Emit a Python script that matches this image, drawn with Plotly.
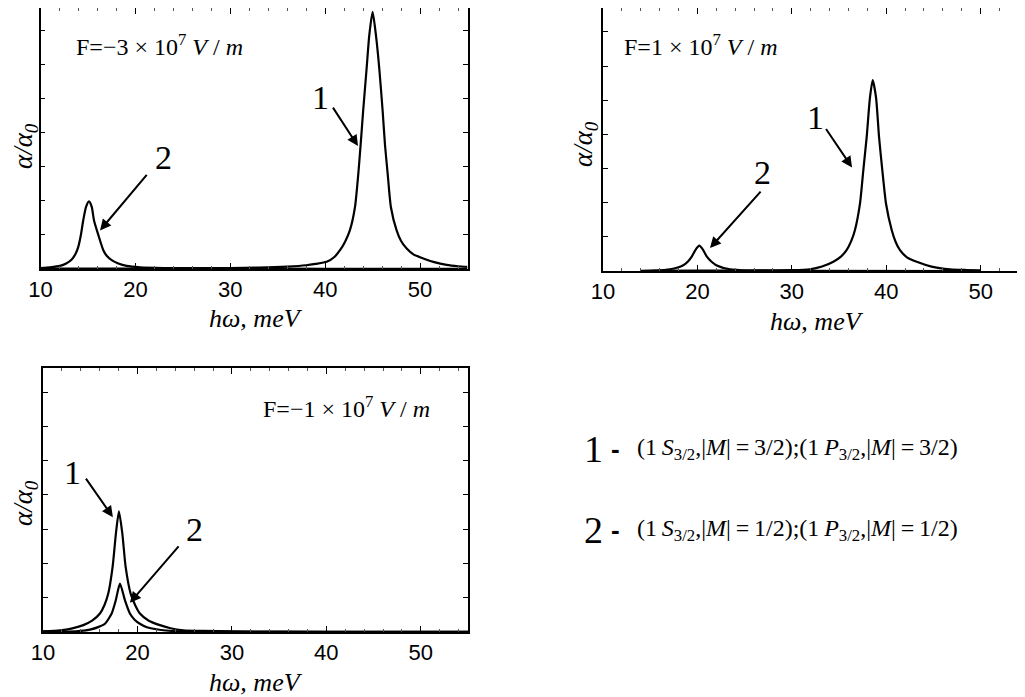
import plotly.graph_objects as go

# the page body adds an 8 px margin, so the figure is made 8 px smaller and all
# reference pixel positions are shifted by that offset
OFF = 8
W, H = 1025 - OFF, 697 - OFF

# ---------------- data ----------------
# Top-left panel, F = -3e7 V/m
tl1_x = [10, 20, 25, 30, 33, 36, 38, 39, 40.16, 41.0, 41.56, 42.1, 42.6, 43.14, 43.49, 43.74, 44.0, 44.37, 44.65,
         45.0, 45.35, 45.7, 46.06, 46.3, 46.59, 46.93, 47.53, 48.0, 48.59, 49.3, 50.34, 51.5, 52.8, 54.0, 55]
tl1_y = [0.01, 0.015, 0.02, 0.03, 0.04, 0.07, 0.11, 0.15, 0.21, 0.36, 0.55, 0.8, 1.13, 1.81, 2.78, 3.65, 4.62, 5.88, 6.85,
         7.53, 6.85, 5.88, 4.62, 3.65, 2.78, 1.81, 1.13, 0.82, 0.6, 0.43, 0.31, 0.2, 0.12, 0.08, 0.06]
tl2_x = [10, 11, 12.05, 12.7, 13.29, 13.7, 13.98, 14.25, 14.5, 14.8, 15.11, 15.4, 15.64, 16.1, 16.62, 17.0, 17.5,
         18.2, 19.08, 20.5, 23, 27, 35, 45, 55]
tl2_y = [0.03, 0.05, 0.09, 0.16, 0.28, 0.45, 0.65, 0.99, 1.42, 1.82, 1.98, 1.82, 1.42, 0.99, 0.55, 0.38, 0.26,
         0.16, 0.09, 0.05, 0.03, 0.02, 0.01, 0.005, 0.004]

# Top-right panel, F = 1e7 V/m
tr1_x = [14, 20, 25, 28, 30, 31.9, 33.2, 34.4, 35.2, 35.8, 36.3, 36.69, 37.22, 37.57, 37.93, 38.28, 38.57,
         38.92, 39.24, 39.59, 39.98, 40.58, 41.0, 41.46, 42.2, 43.23, 44.8, 46.76, 48.5, 50]
tr1_y = [0.005, 0.01, 0.015, 0.02, 0.025, 0.05, 0.13, 0.27, 0.42, 0.61, 0.88, 1.2, 1.97, 2.94, 3.92, 5.08, 5.59,
         5.08, 3.92, 2.94, 1.97, 1.2, 0.85, 0.61, 0.4, 0.27, 0.13, 0.05, 0.03, 0.02]
tr2_x = [14, 15.3, 17.1, 18.5, 19.0, 19.4, 19.8, 20.2, 20.6, 21.0, 21.5, 22.0, 23.45, 25.5, 30, 50]
tr2_y = [0.0, 0.01, 0.05, 0.17, 0.28, 0.42, 0.62, 0.74, 0.62, 0.42, 0.27, 0.17, 0.05, 0.015, 0.005, 0.0]

# Bottom-left panel, F = -1e7 V/m
bl1_x = [10, 11.8, 13.0, 14.27, 15.2, 16.03, 16.5, 16.91, 17.37, 17.72, 18.04, 18.4, 18.75, 19.28, 19.8, 20.26,
         21.2, 22.38, 23.5, 24.85, 27, 30, 35, 45, 55]
bl1_y = [0.02, 0.05, 0.1, 0.2, 0.33, 0.54, 0.78, 1.12, 1.9, 2.87, 3.52, 2.87, 1.9, 1.12, 0.76, 0.54,
         0.33, 0.2, 0.11, 0.05, 0.03, 0.02, 0.01, 0.005, 0.003]
bl2_x = [10, 12, 13.5, 14.97, 15.9, 16.56, 17.27, 17.7, 18.15, 18.68, 19.2, 19.7, 20.26, 21.0, 22.0, 24.3, 27, 35, 55]
bl2_y = [0.01, 0.015, 0.02, 0.07, 0.15, 0.24, 0.54, 0.92, 1.41, 0.92, 0.54, 0.36, 0.24, 0.14, 0.08, 0.02, 0.01,
         0.005, 0.003]

x_ticks = [10, 20, 30, 40, 50]
field_labels = ["F=\u22123 \u00d7 10<sup>7</sup> <i>V</i> / <i>m</i>",
                "F=1 \u00d7 10<sup>7</sup> <i>V</i> / <i>m</i>",
                "F=\u22121 \u00d7 10<sup>7</sup> <i>V</i> / <i>m</i>"]
T = "\u2009"
legend_lines = [
    f"(1{T}<i>S</i><sub>3/2</sub>,|<i>M</i>|{T}={T}3/2);(1{T}<i>P</i><sub>3/2</sub>,|<i>M</i>|{T}={T}3/2)",
    f"(1{T}<i>S</i><sub>3/2</sub>,|<i>M</i>|{T}={T}1/2);(1{T}<i>P</i><sub>3/2</sub>,|<i>M</i>|{T}={T}1/2)",
]

# ---------------- figure ----------------
fig = go.Figure()
LINE = dict(color="black", width=2.2, shape="spline", smoothing=0.6)


def add(x, y, xa, ya):
    fig.add_trace(go.Scatter(x=x, y=y, mode="lines", line=LINE, xaxis=xa, yaxis=ya,
                             showlegend=False, hoverinfo="skip"))


add(tl1_x, tl1_y, "x", "y")
add(tl2_x, tl2_y, "x", "y")
add(tr1_x, tr1_y, "x2", "y2")
add(tr2_x, tr2_y, "x2", "y2")
add(bl1_x, bl1_y, "x3", "y3")
add(bl2_x, bl2_y, "x3", "y3")


def px(p):
    return min(1.0, max(0.0, (p - OFF) / W))


def py(p):
    return min(1.0, max(0.0, 1 - (p - OFF) / H))


SANS = "Liberation Sans, Arial, sans-serif"
SERIF = "Liberation Serif, Times New Roman, serif"


def xaxis(dom, rng, anchor):
    return dict(domain=dom, range=rng, anchor=anchor, tickvals=x_ticks, ticks="inside", ticklen=6,
                tickwidth=1.2, tickcolor="black", showline=True, linecolor="black", linewidth=1.8,
                mirror="allticks", showgrid=False, zeroline=False, ticklabelstandoff=0, automargin=False,
                tickfont=dict(family=SANS, size=22, color="black"),
                minor=dict(dtick=2, tick0=10, ticks="inside", ticklen=3, tickcolor="#555", tickwidth=1,
                           showgrid=False))


def yaxis(dom, rng, anchor):
    return dict(domain=dom, range=rng, anchor=anchor, dtick=1, tick0=0, ticks="inside", ticklen=5,
                tickwidth=1.2, tickcolor="black", showticklabels=False, showline=True, linecolor="black",
                linewidth=1.8, mirror="allticks", showgrid=False, zeroline=False, automargin=False)


fig.update_layout(
    width=W, height=H, autosize=False,
    margin=dict(l=0, r=0, t=0, b=0, autoexpand=False),
    paper_bgcolor="white", plot_bgcolor="white",
    xaxis=xaxis([px(40.5), px(467.5)], [10, 55], "y"),
    yaxis=yaxis([py(269), py(6)], [0, 7.645], "x"),
    xaxis2=xaxis([px(603), 1.0], [10, 54.7], "y2"),
    yaxis2=yaxis([py(271), py(7)], [0, 7.70], "x2"),
    xaxis3=xaxis([px(43), px(468)], [10, 55], "y3"),
    yaxis3=yaxis([py(632), py(368)], [0, 7.70], "x3"),
)

ann = []


def text(x, y, t, size, family=SERIF, xanchor="center", angle=0):
    ann.append(dict(x=px(x), y=py(y), xref="paper", yref="paper", text=t, showarrow=False,
                    xanchor=xanchor, yanchor="middle", textangle=angle,
                    font=dict(family=family, size=size, color="black")))


def arrow(xr, yr, hx, hy, ax, ay):
    ann.append(dict(x=hx, y=hy, xref=xr, yref=yr, text="", showarrow=True, ax=ax, ay=ay,
                    arrowhead=2, arrowsize=1.1, arrowwidth=2, arrowcolor="black"))


# field annotations
text(159, 45, field_labels[0], 24)
text(701, 45, field_labels[1], 24)
text(346, 407, field_labels[2], 24)

# axis titles
for (cx, cy) in [(256, 318), (817, 321), (256, 682)]:
    text(cx, cy, "<i>h\u03c9, meV</i>", 26)
for (cx, cy) in [(25, 146), (585, 144), (25, 503)]:
    text(cx, cy, "<i>\u03b1/\u03b1<sub>0</sub></i>", 27, angle=-90)

# peak labels
text(320, 97, "1", 34)
text(163, 158, "2", 34)
text(815, 118, "1", 34)
text(762, 172, "2", 34)
text(72, 472, "1", 34)
text(194, 529, "2", 34)

# arrows (head in data coordinates, tail as pixel offset)
arrow("x", "y", 43.46, 3.6, -26, -40)
arrow("x", "y", 16.27, 1.13, 48, -57)
arrow("x2", "y2", 36.38, 3.03, -27, -40)
arrow("x2", "y2", 21.33, 0.67, 52, -58)
arrow("x3", "y3", 17.4, 3.35, -28, -40)
arrow("x3", "y3", 19.2, 0.85, 50, -58)

# legend of transitions
for i, (ly, lab) in enumerate([(449, "1"), (530, "2")]):
    text(593, ly, lab, 38)
    text(615, ly, "<b>-</b>", 26, family=SANS)
    text(635, ly, legend_lines[i], 24, xanchor="left")

fig.update_layout(annotations=ann)
fig.write_html("out.html")
